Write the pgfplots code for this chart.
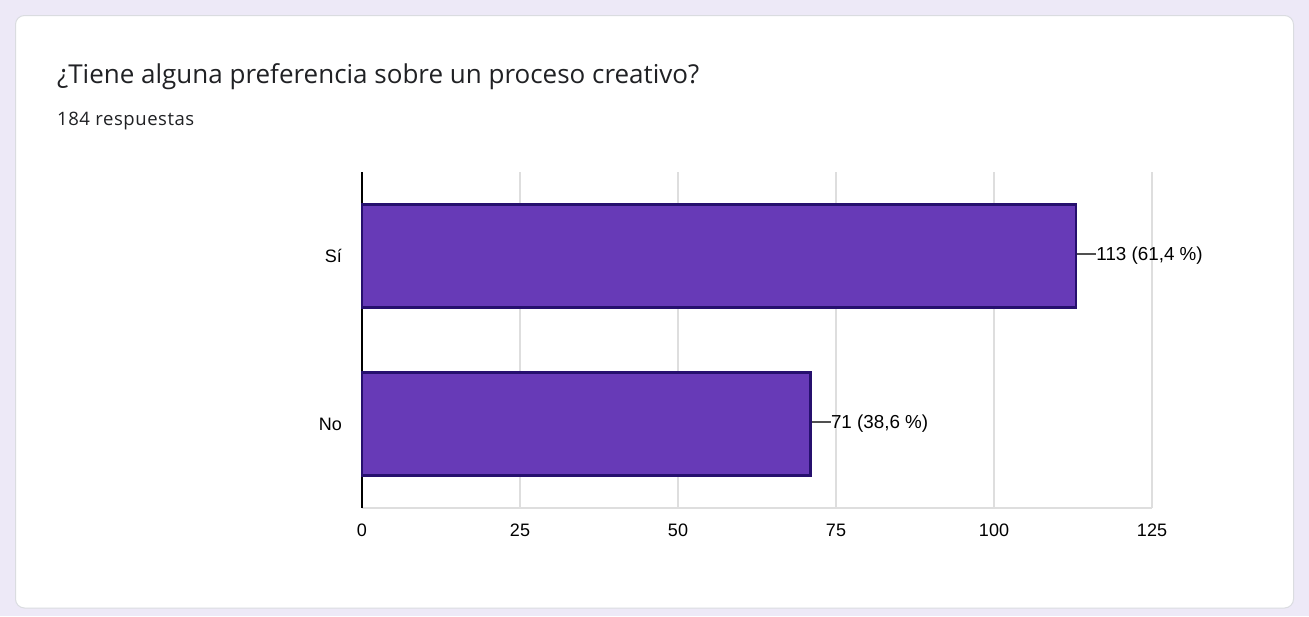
\documentclass[border=0pt]{standalone}
\usepackage{pgfplots}
\pgfplotsset{compat=1.18}
\usepackage{fontspec}
\setmainfont{Liberation Sans}
\newfontfamily\titlefont{Open Sans}
\definecolor{bgl}{RGB}{237,233,247}
\definecolor{cardb}{RGB}{218,220,224}
\definecolor{barfill}{RGB}{103,58,183}
\definecolor{bardraw}{RGB}{38,16,110}
\definecolor{gridc}{RGB}{222,222,222}
\definecolor{txt}{RGB}{32,33,36}
\definecolor{conn}{RGB}{80,80,80}
\begin{document}
\begin{tikzpicture}
\fill[bgl] (0pt,0pt) rectangle (1309pt,-616pt);
\draw[cardb, fill=white, line width=1pt, rounded corners=9pt] (15.5pt,-15.5pt) rectangle (1293.5pt,-608pt);
\node[anchor=base west, inner sep=0pt, text=txt] at (57pt,-83pt) {\titlefont\fontsize{26}{30}\selectfont ¿Tiene alguna preferencia sobre un proceso creativo?};
\node[anchor=base west, inner sep=0pt, text=txt] at (57pt,-125pt) {\titlefont\addfontfeature{LetterSpace=3}\fontsize{18.5}{22}\selectfont 184 respuestas};
\begin{axis}[
  at={(362pt,-508pt)}, anchor=south west,
  scale only axis, width=790pt, height=336pt,
  xbar, bar width=103pt,
  xmin=0, xmax=125, ymin=-0.5, ymax=1.5,
  xtick={0,25,50,75,100,125},
  ytick={0,1}, yticklabels={No,Sí},
  xmajorgrids, grid style={gridc, line width=1.5pt},
  axis x line*=bottom, axis y line*=left,
  x axis line style={-, draw=gridc, line width=1.5pt},
  y axis line style={-, draw=black, line width=1.8pt},
  major tick length=0pt,
  /pgf/number format/assume math mode=true,
  xticklabel style={inner sep=0pt, anchor=north, yshift=-16pt, font=\fontsize{18}{20}\selectfont, text=black},
  yticklabel style={inner sep=0pt, anchor=east, xshift=-20pt, font=\fontsize{18}{20}\selectfont, text=black},
  point meta=explicit symbolic,
  nodes near coords={\textcolor{conn}{\rule[0.33em]{19pt}{1.4pt}}\pgfplotspointmeta},
  every node near coord/.append style={anchor=west, inner xsep=0pt, xshift=0pt, font=\fontsize{18.8}{20}\selectfont, text=black},
  clip=false,
]
\addplot[draw=bardraw, line width=2.6pt, fill=barfill] coordinates {
  (71,0) [71 (38,6 \%)]
  (113,1) [113 (61,4 \%)]
};
\end{axis}
\end{tikzpicture}
\end{document}
